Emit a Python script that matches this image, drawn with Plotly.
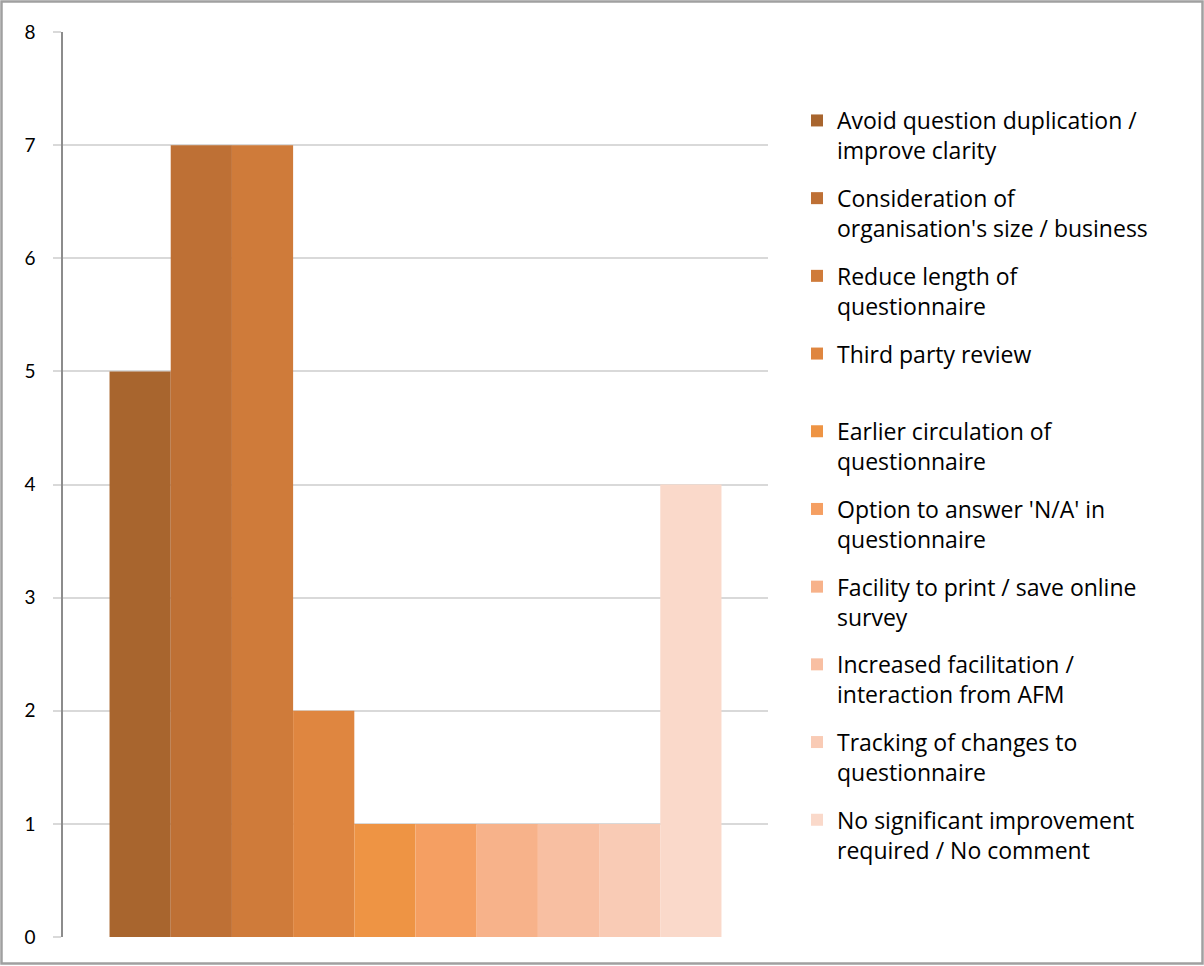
import plotly.graph_objects as go

categories = [
    "Avoid question duplication /<br>improve clarity",
    "Consideration of<br>organisation's size / business",
    "Reduce length of<br>questionnaire",
    "Third party review<br> ",
    "Earlier circulation of<br>questionnaire",
    "Option to answer 'N/A' in<br>questionnaire",
    "Facility to print / save online<br>survey",
    "Increased facilitation /<br>interaction from AFM",
    "Tracking of changes to<br>questionnaire",
    "No significant improvement<br>required / No comment",
]
values = [5, 7, 7, 2, 1, 1, 1, 1, 1, 4]
colors = ["#A8652E", "#BE7035", "#CF7B3A", "#DF8640", "#EE9444",
          "#F59F62", "#F7B28A", "#F8BFA2", "#F9CBB5", "#FAD9CA"]

fig = go.Figure()
for i, (name, v, c) in enumerate(zip(categories, values, colors)):
    fig.add_trace(go.Bar(x=[""], y=[v], name=name, marker=dict(color=c, line=dict(width=0)),
                         legendgroup=str(i)))

W, H = 1204, 966
L, R, T, B = 63, 768, 32, 937
pw, ph = R - L, B - T

def px_x(p):
    return (p - L) / pw

def px_y(p):
    return (B - p) / ph

fig.update_layout(
    width=W, height=H,
    margin=dict(l=L, r=W - R, t=T, b=H - B),
    paper_bgcolor="white", plot_bgcolor="white",
    barmode="group", bargap=0.132, bargroupgap=0,
    font=dict(family="Lato, Carlito, sans-serif", color="#000000"),
    showlegend=True,
    legend=dict(x=px_x(797), y=px_y(99), xanchor="left", yanchor="top",
                font=dict(family="Open Sans, sans-serif", size=23, color="#000000"), valign="top",
                tracegroupgap=14.9, itemwidth=30, bgcolor="rgba(0,0,0,0)"),
    xaxis=dict(showticklabels=False, showgrid=False, zeroline=False, showline=False,
               ticks="", range=[-0.5, 0.5]),
    yaxis=dict(range=[0, 8], dtick=1, showgrid=True, gridcolor="#D9D9D9", gridwidth=2,
               zeroline=False, showline=True, linecolor="#8C8C8C", linewidth=1.5,
               ticks="outside", ticklen=8, tickcolor="#D9D9D9", tickwidth=2,
               tickfont=dict(size=19, color="#000000"), ticklabelstandoff=14),
    shapes=[dict(type="rect", xref="paper", yref="paper",
                 x0=px_x(1.5), x1=px_x(1202.5), y0=px_y(963.5), y1=px_y(1.5),
                 line=dict(color="#A0A0A0", width=2.5), fillcolor="rgba(0,0,0,0)", layer="above")],
)

fig.write_html("out.html")
